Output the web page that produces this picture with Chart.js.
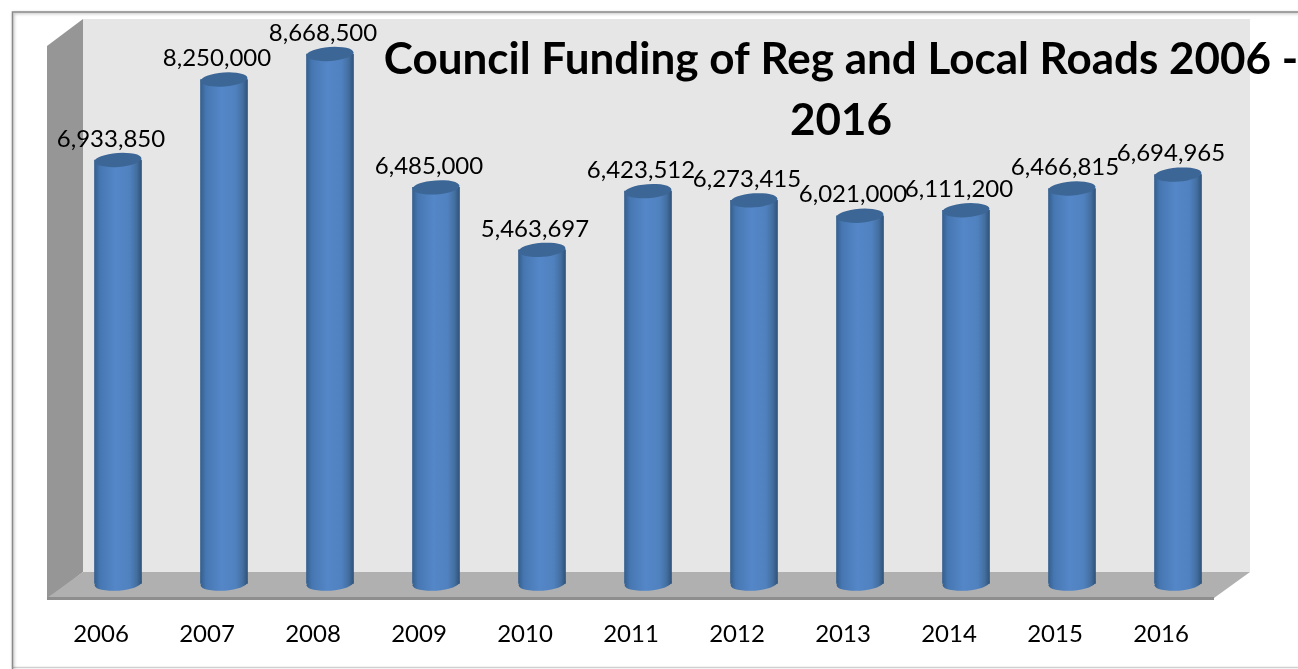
<!DOCTYPE html>
<html>
<head>
<meta charset="utf-8">
<title>Council Funding of Reg and Local Roads</title>
<script src="https://cdn.jsdelivr.net/npm/chart.js@4"></script>
<style>
  html, body { margin: 0; padding: 0; background: #fff; }
  #wrap { position: relative; width: 1298px; height: 669px; overflow: hidden; }
</style>
</head>
<body>
<div id="wrap"><canvas id="funding-chart" width="1298" height="669"></canvas></div>
<script>
const years = ['2006', '2007', '2008', '2009', '2010', '2011', '2012', '2013', '2014', '2015', '2016'];
const funding = [6933850, 8250000, 8668500, 6485000, 5463697, 6423512, 6273415, 6021000, 6111200, 6466815, 6694965];
const titleLines = ['Council Funding of Reg and Local Roads 2006 -', '2016'];

const FONT = 'Lato, "Open Sans", sans-serif';
const BAR_W = 47;
const RY = 7;
const TILT = -0.07;

function cylinderGradient(c, cx) {
  const g = c.createLinearGradient(cx - BAR_W / 2, 0, cx + BAR_W / 2, 0);
  g.addColorStop(0, '#355f8f');
  g.addColorStop(0.12, '#4777b2');
  g.addColorStop(0.45, '#5487c8');
  g.addColorStop(0.75, '#5081bf');
  g.addColorStop(0.9, '#436e9f');
  g.addColorStop(1, '#30537a');
  return g;
}

function poly(c, pts, fill) {
  c.beginPath();
  pts.forEach((p, i) => (i ? c.lineTo(p[0], p[1]) : c.moveTo(p[0], p[1])));
  c.closePath();
  c.fillStyle = fill;
  c.fill();
}

// frame and the fake 3d room behind the bars
const room = {
  id: 'room',
  beforeDraw(chart) {
    const c = chart.ctx;
    c.save();
    c.fillStyle = '#fff';
    c.fillRect(0, 0, chart.width, chart.height);
    c.strokeStyle = '#cfcfcf';
    c.lineWidth = 1.5;
    c.beginPath();
    c.moveTo(12, 667.5);
    c.lineTo(1298, 667.5);
    c.stroke();
    c.shadowColor = 'rgba(0,0,0,0.35)';
    c.shadowBlur = 3;
    c.shadowOffsetX = 1;
    c.shadowOffsetY = 1;
    c.strokeStyle = '#8a8a8a';
    c.beginPath();
    c.moveTo(12.5, 669);
    c.lineTo(12.5, 12);
    c.lineTo(1298, 12);
    c.stroke();
    c.restore();
    c.save();
    c.fillStyle = '#e6e6e6';
    c.fillRect(83, 19, 1167, 553);
    poly(c, [[47, 46], [83, 19], [83, 572], [47, 600]], '#969696');
    poly(c, [[83, 572], [1250, 572], [1214, 598], [47, 598]], '#b0b0b0');
    c.fillStyle = '#8e8e8e';
    c.fillRect(47, 597, 1167, 3);
    c.restore();
  },
  // bottom caps go under the bar bodies
  beforeDatasetsDraw(chart) {
    const c = chart.ctx;
    const base = chart.scales.y.getPixelForValue(0);
    c.save();
    chart.getDatasetMeta(0).data.forEach(bar => {
      c.beginPath();
      c.ellipse(bar.x, base, BAR_W / 2, RY, TILT, 0, Math.PI * 2);
      c.fillStyle = cylinderGradient(c, bar.x);
      c.fill();
    });
    c.restore();
  },
  afterDatasetsDraw(chart) {
    const c = chart.ctx;
    c.save();
    chart.getDatasetMeta(0).data.forEach((bar, i) => {
      c.beginPath();
      c.ellipse(bar.x, bar.y, BAR_W / 2, RY, TILT, 0, Math.PI * 2);
      c.fillStyle = '#3c6696';
      c.fill();
      c.fillStyle = '#000';
      c.font = '24px ' + FONT;
      c.textAlign = 'center';
      c.textBaseline = 'middle';
      c.fillText(funding[i].toLocaleString('en-US'), bar.x - 7, bar.y - 21);
    });
    c.font = 'bold 44px ' + FONT;
    c.fillStyle = '#000';
    c.textAlign = 'center';
    c.textBaseline = 'middle';
    c.fillText(titleLines[0], 841, 60);
    c.fillText(titleLines[1], 841, 121);
    c.restore();
  }
};

new Chart(document.getElementById('funding-chart'), {
  type: 'bar',
  data: {
    labels: years,
    datasets: [{
      data: funding,
      barThickness: BAR_W,
      borderWidth: 0,
      backgroundColor: ctx => {
        // scales are not placed yet on the first pass through here
        const cx = ctx.chart.scales.x ? ctx.chart.scales.x.getPixelForValue(ctx.dataIndex) : NaN;
        return Number.isFinite(cx) ? cylinderGradient(ctx.chart.ctx, cx) : '#4f81bd';
      }
    }]
  },
  options: {
    responsive: false,
    animation: false,
    layout: { padding: { left: 65, right: 67, top: 33.7, bottom: 0 } },
    plugins: { legend: { display: false }, tooltip: { enabled: false }, title: { display: false } },
    scales: {
      x: {
        grid: { display: false },
        border: { display: false },
        afterFit: s => { s.height = 669 - 583.7; },
        ticks: { color: '#000', font: { family: FONT, size: 24 }, labelOffset: -17, padding: 28, maxRotation: 0 }
      },
      y: { display: false, min: 0, max: 9000000 }
    }
  },
  plugins: [room]
});
</script>
</body>
</html>
